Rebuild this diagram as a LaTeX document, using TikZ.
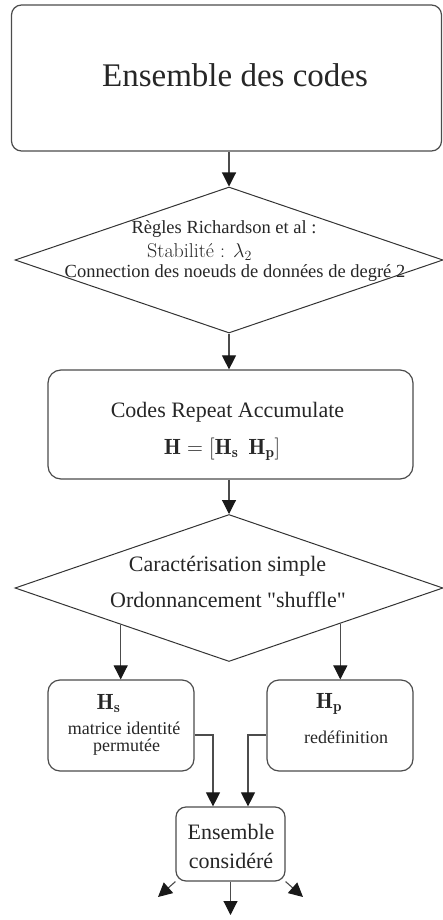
\RequirePackage{fix-cm}
\documentclass[tikz,border=0pt]{standalone}
\usepackage{fontspec}
\newfontfamily\tms{Liberation Serif}
\usetikzlibrary{shapes.geometric,arrows.meta,calc}
\begin{document}
\begin{tikzpicture}[x=1pt,y=-1pt,
  box/.style={draw=black!70, line width=1.2pt, rounded corners=#1, inner sep=0pt},
  box/.default=12pt,
  dia/.style={draw=black!80, line width=1pt, diamond, inner sep=0pt},
  lab/.style={inner sep=0pt, anchor=base, text=black!85},
  big/.style={lab, font=\tms\fontsize{33}{36}\selectfont},
  mid/.style={lab, font=\tms\fontsize{22}{24}\selectfont},
  sml/.style={lab, font=\tms\fontsize{18.5}{20}\selectfont},
  tiny/.style={lab, font=\tms\fontsize{18}{20}\selectfont},
  mth/.style={lab, font=\fontsize{22}{24}\selectfont},
  arr/.style={draw=black!70, line width=1.1pt, -{Triangle[length=14pt,width=14pt,color=black!90]}}
]
\useasboundingbox (0,0) rectangle (442,920);

% top box
\node[box=10pt, minimum width=430pt, minimum height=146pt] (top) at (226.5,78) {};
\node[big] (t0) at (235,87) {Ensemble des codes};

% diamond 1
\node[dia, minimum width=428pt, minimum height=146pt] (d1) at (229,260) {};
\node[sml] (r1) at (224,233) {Règles Richardson et al :};
\node[lab, anchor=base west, font=\fontsize{20}{22}\selectfont] (r2) at (147,257.5) {Stabilité : $\lambda_2$};
\node[sml] (r3) at (235,277) {Connection des noeuds de données de degré 2};

% box 2
\node[box=13pt, minimum width=365pt, minimum height=109pt] (b2) at (230.5,424.5) {};
\node[mid] (c1) at (227.5,417.3) {Codes Repeat Accumulate};
\node[mth] (c2) at (222,454) {$\mathbf{H}=[\mathbf{H_s}\hspace{10pt}\mathbf{H_p}]$};

% diamond 2
\node[dia, minimum width=428pt, minimum height=147pt] (d2) at (229,588) {};
\node[mid] (s1) at (227.5,571) {Caractérisation simple};
\node[mid] (s2) at (228,607.3) {Ordonnancement "shuffle"};

% Hs / Hp boxes
\node[box=12pt, minimum width=146pt, minimum height=91pt] (Hs) at (121,725.5) {};
\node[mth] (hs1) at (108.5,709) {$\mathbf{H_s}$};
\node[tiny] (hs2) at (124,734) {matrice identité};
\node[tiny] (hs3) at (126.5,751) {permutée};

\node[box=12pt, minimum width=146pt, minimum height=91pt] (Hp) at (340,725.5) {};
\node[mth] (hp1) at (329,708) {$\mathbf{H_p}$};
\node[tiny] (hp2) at (346,743) {redéfinition};

% Ensemble considere
\node[box=10pt, minimum width=109pt, minimum height=74pt] (EC) at (230.5,844) {};
\node[mid] (e1) at (231,839) {Ensemble};
\node[mid] (e2) at (231,868) {considéré};

% helper coordinates
\path (d2.west) -- (d2.south) coordinate[pos=0.495] (dL);
\path (d2.south) -- (d2.east) coordinate[pos=0.519] (dR);
\coordinate (eL) at (158,897);
\coordinate (eR) at (303,897);
\coordinate (eM) at (231,915);

% connectors
\draw[arr] (d1.north |- top.south) -- (d1.north);
\draw[arr] (d1.south) -- (d1.south |- b2.north);
\draw[arr] (d2.north |- b2.south) -- (d2.north);
\draw[arr] (dL) -- (dL |- Hs.north);
\draw[arr] (dR) -- (dR |- Hp.north);
\draw[arr] ([yshift=-9.5pt]Hs.east) -| ([xshift=-17.5pt]EC.north);
\draw[arr] ([yshift=-9.5pt]Hp.west) -| ([xshift=17.5pt]EC.north);
\draw[arr] (EC.south) -- (EC.south |- eM);
\draw[arr] (EC.south west) -- (eL);
\draw[arr] (EC.south east) -- (eR);
\end{tikzpicture}
\end{document}
